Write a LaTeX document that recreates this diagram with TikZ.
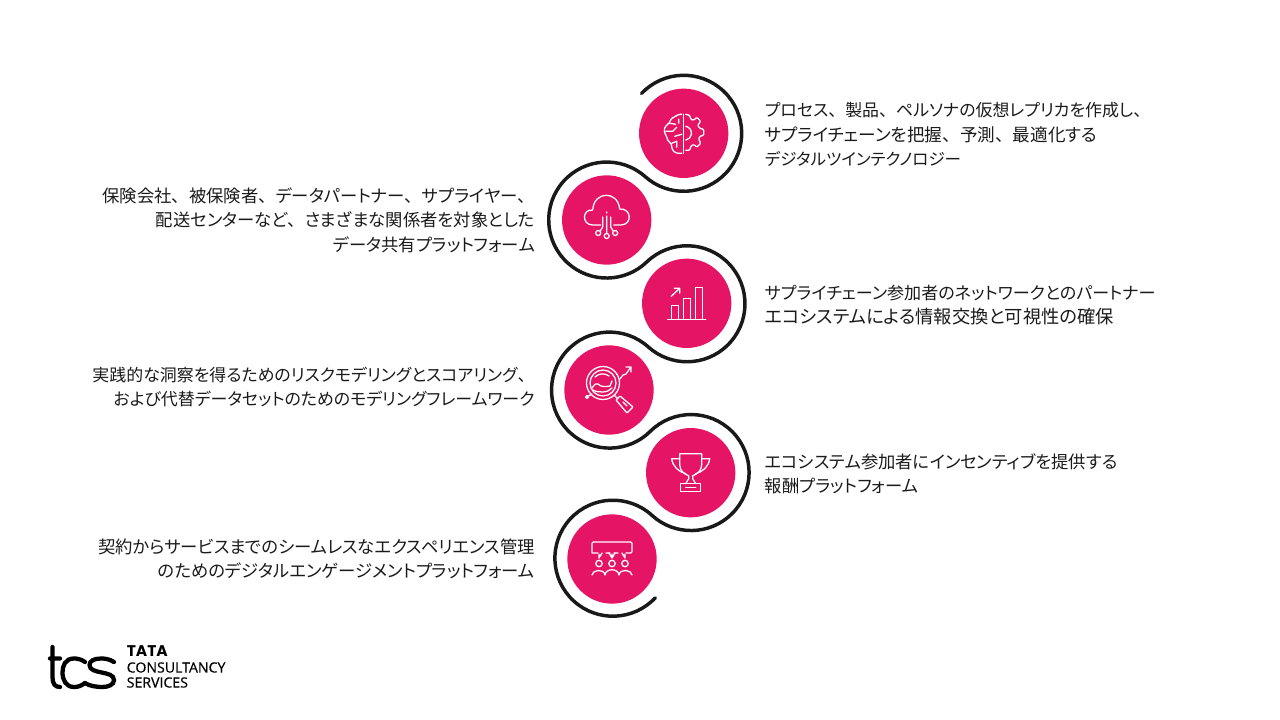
\documentclass[tikz,border=0pt]{standalone}
\usepackage{fontspec}
\setmainfont{Noto Sans CJK JP}[RawFeature=+palt]
\newfontfamily\widefont{Noto Sans CJK JP}
\newfontfamily\logofont{Open Sans}[FakeBold=0.5]
\newfontfamily\tatafont{Poppins}
\newcommand{\ten}{{\widefont 、}}
\newcommand{\sz}[2]{{\fontsize{#1}{18.25}\selectfont #2}}
\usepackage{tikz}
\usetikzlibrary{positioning,calc}
\definecolor{tcspink}{HTML}{E61464}
\definecolor{inktext}{HTML}{1A1A1A}

\begin{document}
\begin{tikzpicture}[
  x=.75pt,y=-.75pt,
  font=\fontsize{13}{18.25}\selectfont,
  disc/.style={circle,fill=tcspink,minimum size=67pt,inner sep=0pt},
  rtext/.style={align=left,inner sep=0pt,text=inktext},
  ltext/.style={align=right,inner sep=0pt,text=inktext},
  ring/.style={draw=black!90,line width=2.6pt,line cap=round},
  icon/.style={draw=white,line width=.95pt,line join=round,line cap=round},
  logoline/.style={draw=black,line width=3.2pt,line cap=round}]
\useasboundingbox (0,0) rectangle (1280,720);

% discs
\node[disc] (cA) at (683.7,133.3) {};
\node[disc] (cB) at (606.7,220) {};
\node[disc] (cC) at (686.7,303.3) {};
\node[disc] (cD) at (609,390) {};
\node[disc] (cE) at (690.7,472.7) {};
\node[disc] (cF) at (612,559) {};

% the ribbon round the discs
\draw[ring] ($(cA)+(223.3:58)$)
  arc[start angle=223.3,end angle=491.6,radius=58]
  arc[start angle=311.6,end angle=46.2,radius=58]
  arc[start angle=226.2,end angle=491.9,radius=58]
  arc[start angle=311.9,end angle=45.3,radius=58]
  arc[start angle=225.3,end angle=492.4,radius=58]
  arc[start angle=312.4,end angle=43,radius=58];

% texts
\node[rtext,right=27pt of cA,yshift=-.8pt] (tA) {\sz{12.7}{プロセス\ten 製品\ten ペルソナの仮想レプリカを作成し\ten}\\\sz{13.2}{サプライチェーンを把握\ten 予測\ten 最適化する}\\\sz{12.4}{デジタルツインテクノロジー}};
\node[ltext,left=20pt of cB] (tB) {保険会社\ten 被保険者\ten データパートナー\ten サプライヤー\ten\\配送センターなど\ten さまざまな関係者を対象とした\\データ共有プラットフォーム};
\node[rtext,right=24.7pt of cC,yshift=-1.2pt] (tC) {\sz{12.8}{サプライチェーン参加者のネットワークとのパートナー}\\\sz{13.7}{エコシステムによる情報交換と可視性の確保}};
\node[ltext,left=22pt of cD,yshift=2.2pt] (tD) {\sz{12.7}{実践的な洞察を得るためのリスクモデリングとスコアリング\ten}\\\sz{12.7}{および代替データセットのためのモデリングフレームワーク}};
\node[rtext,right=21.7pt of cE,yshift=-.6pt] (tE) {エコシステム参加者にインセンティブを提供する\\報酬プラットフォーム};
\node[ltext,left=24pt of cF] (tF) {契約からサービスまでのシームレスなエクスペリエンス管理\\のためのデジタルエンゲージメントプラットフォーム};

% brain and gear
\begin{scope}[shift={(cA)}]
\draw[icon] (0,-19) -- (0,20);
\draw[icon,rounded corners=2pt] (-2,-19) -- (-6,-19) -- (-9,-16) -- (-13,-15) -- (-14,-10) -- (-18,-8) -- (-20,-2) -- (-17,3) -- (-16,8) -- (-12,10) -- (-12,16) -- (-8,20) -- (-2,20);
\draw[icon] (-14,-10) -- (-8,-9) (-18,-2) -- (-11,-2) -- (-7,-6) (-9,3) -- (-2,1) (-12,10) -- (-7,8) -- (-7,14) (-5,-14) -- (-5,-10);
\draw[icon,rounded corners=.8pt] (2,-19) -- (6,-18) -- (7,-14) -- (10,-13) -- (13,-16) -- (17,-12) -- (14,-8) -- (16,-5) -- (20,-4) -- (20,2) -- (16,3) -- (15,6) -- (17,10) -- (13,14) -- (10,11) -- (7,13) -- (6,17) -- (2,17);
\draw[icon] (2,-7) arc[start angle=-80,end angle=80,radius=7];
\end{scope}

% cloud
\begin{scope}[shift={(cB)}]
\draw[icon] (-6,5) -- (-14,5) .. controls (-25,5) and (-25,-11) .. (-14,-10) .. controls (-13,-29) and (11,-30) .. (13,-11) .. controls (25,-12) and (26,5) .. (14,5) -- (7,5);
\draw[icon] (0,-4) -- (0,13) (-4,-3) -- (-4,7) -- (-6.5,11) (4,-3) -- (4,7) -- (6.5,11) (0,-8) -- (0,-7);
\draw[icon] (0,16) circle[radius=2.5] (-8.5,13) circle[radius=2.5] (8.5,13) circle[radius=2.5];
\end{scope}

% bar chart
\begin{scope}[shift={(cC)}]
\draw[icon] (-15.5,16) -- (-15.5,2) -- (-8,2) -- (-8,16);
\draw[icon] (-3.5,16) -- (-3.5,-5) -- (3.5,-5) -- (3.5,16);
\draw[icon] (8.5,16) -- (8.5,-15.5) -- (15.5,-15.5) -- (15.5,16);
\draw[icon] (-19,16.5) -- (19,16.5);
\draw[icon] (-15.5,-7) -- (-7,-15) (-12.5,-15) -- (-7,-15) -- (-7,-10);
\end{scope}

% magnifier
\begin{scope}[shift={(cD)}]
\draw[icon] (-6,-7) circle[radius=16.5] (-6,-7) circle[radius=13];
\draw[icon] (-17,-2) .. controls (-14,-6) and (-13,-7) .. (-11,-6) .. controls (-8,-3) and (-4,-3) .. (1,-4) -- (3,-9);
\draw[icon] (-16,0) .. controls (-11,3) and (-1,3) .. (3,-2) (-14,-13) .. controls (-10,-17) and (-4,-17) .. (0,-14);
\draw[icon] (5,5) -- (9,9);
\draw[icon,rounded corners=.5pt] (7,10) -- (11,6) -- (24,17) -- (18,23) -- cycle;
\draw[icon] (-22,7) circle[radius=1.5] (-20.5,6) -- (-17,4);
\draw[icon] (11,-11) -- (14,-15) -- (17,-16) -- (22,-23) (17,-23) -- (22,-23) -- (22,-18);
\draw[icon] (14,12) -- (18,16);
\end{scope}

% trophy
\begin{scope}[shift={(cE)}]
\draw[icon] (-11,-19) -- (11,-19) -- (11,-8) .. controls (11,-1) and (5,2) .. (2,3) -- (2,6) -- (5,11) (-11,-19) -- (-11,-8) .. controls (-11,-1) and (-5,2) .. (-2,3) -- (-2,6) -- (-5,11);
\draw[icon] (-11,-14) -- (-19,-14) .. controls (-18,-6) and (-12,-1) .. (-5,1);
\draw[icon] (11,-14) -- (19,-14) .. controls (18,-6) and (12,-1) .. (5,1);
\draw[icon] (-10,11) rectangle (10,18.5);
\draw[icon] (-5,14.5) -- (5,14.5);
\end{scope}

% people under a board
\begin{scope}[shift={(cF)}]
\draw[icon,rounded corners=1pt] (-20,-6) -- (-20,-17) -- (20,-17) -- (20,-6) -- (14,-6) (-14,-6) -- (-20,-6) (-6,-6) -- (-2,-6) (6,-6) -- (2,-6);
\draw[icon] (-13,-1) -- (-13,-5) (-13,-1) -- (-10,-6) (0,-1) -- (0,-5) (0,-1) -- (-3,-6) (0,-1) -- (3,-6) (13,-1) -- (13,-5) (13,-1) -- (10,-6);
\draw[icon] (-13,4.5) circle[radius=3.2] (0,4.5) circle[radius=3.2] (13,4.5) circle[radius=3.2];
\draw[icon] (-20,16) .. controls (-20,11) and (-8,9) .. (-7,16) .. controls (-6,9) and (6,9) .. (7,16) .. controls (8,9) and (20,11) .. (20,16);
\end{scope}

% logo
\draw[logoline] (52.5,647) -- (52.5,677) .. controls (52.5,684) and (55,687) .. (60,687) (50,658.5) -- (60,658.5);
\draw[logoline] (85,662) .. controls (81,659) and (77,658.5) .. (74,658.5) .. controls (65,658.5) and (62.5,666) .. (62.5,672.5) .. controls (62.5,680) and (66,687) .. (74,687) .. controls (78,687) and (81,686) .. (85,683);
\draw[logoline] (114,662) .. controls (109,659) and (105,658.5) .. (101,658.5) .. controls (94,658.5) and (89.5,661) .. (89.5,665) .. controls (89.5,675) and (114,670) .. (114,680) .. controls (114,685) and (108,687) .. (102,687) .. controls (97,687) and (89,686) .. (85,683);
\node[anchor=west,inner sep=0pt,font=\tatafont\bfseries\fontsize{11.6}{12}\selectfont] (lTata) at (126.5,651.5) {TATA};
\node[anchor=west,inner sep=0pt,font=\logofont\fontsize{10.6}{11}\selectfont] (lCons) at (126.5,667.5) {CONSULTANCY};
\node[anchor=west,inner sep=0pt,font=\logofont\fontsize{10.6}{11}\selectfont] (lServ) at (126.5,682.5) {SERVICES};
\end{tikzpicture}
\end{document}
